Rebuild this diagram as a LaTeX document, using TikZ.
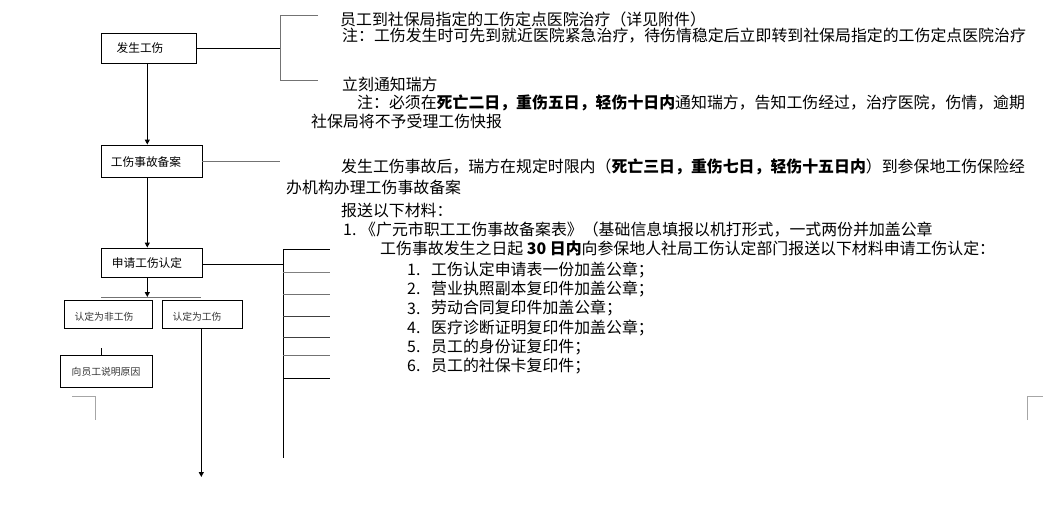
\documentclass[tikz,border=0pt]{standalone}
\usepackage{fontspec}
\setmainfont{Noto Sans CJK SC}
\usetikzlibrary{arrows.meta}
\begin{document}
\begin{tikzpicture}[x=1pt,y=-1pt,
  box/.style={draw=black,line width=0.9pt,inner sep=0pt,font=\fontsize{11.7}{13}\selectfont},
  sbox/.style={draw=black,line width=0.9pt,inner sep=0pt,font=\fontsize{9.8}{11}\selectfont,text=black!80},
  ln/.style={line width=0.9pt,draw=black},
  gln/.style={line width=0.9pt,draw=black!55},
  arr/.style={line width=0.9pt,draw=black,-{Triangle[length=5pt,width=5pt]}},
  corner/.style={line width=1pt,draw=black!35},
  txt/.style={anchor=west,inner sep=0pt,font=\fontsize{15.9}{18}\selectfont}
]
\useasboundingbox (0,0) rectangle (1043,511);
% boxes
\node[box,minimum width=95pt,minimum height=30pt] (fs) at (148.5,48) {};
\node[box,draw=none,anchor=center] (fst) at (140,48) {发生工伤};
\node[box,minimum width=101pt,minimum height=32pt] (ba) at (151.5,161) {};
\node[box,draw=none] (bat) at (146,162) {工伤事故备案};
\node[box,minimum width=101pt,minimum height=29pt] (sq) at (151.5,262.5) {};
\node[box,draw=none] (sqt) at (147,263) {申请工伤认定};
\node[sbox,minimum width=88pt,minimum height=28pt] (fg) at (108,314) {};
\node[sbox,draw=none] (fgt) at (104,317) {认定为非工伤};
\node[sbox,minimum width=80pt,minimum height=28pt] (wg) at (202.3,314) {};
\node[sbox,draw=none] (wgt) at (197,317) {认定为工伤};
\node[sbox,minimum width=92pt,minimum height=32pt] (yy) at (106,371) {};
\node[sbox,draw=none] (yyt) at (106,372) {向员工说明原因};

% axis coordinates
\coordinate (ax) at (147.3,0);
\coordinate (wx) at (201.3,0);
\coordinate (fx) at (101.3,0);

% bracket 1
\coordinate (b1t) at (280,15);
\coordinate (b1b) at (280,80);
\coordinate (b1m) at (280,48);
\coordinate (b1te) at (318,15);
\coordinate (b1be) at (318,80);
\draw[ln] (fs.east) -- (b1m);
\draw[gln] (b1te) -- (b1t) -- (b1b) -- (b1be);

% line from 工伤事故备案
\coordinate (b2e) at (280,161);
\draw[gln] (ba.east) -- (b2e);

% bracket 3
\coordinate (b3m) at (283,264);
\coordinate (b3t) at (283,249);
\coordinate (b3b) at (283,458);
\draw[ln] (sq.east |- b3m) -- (b3m);
\draw[ln] (b3t) -- (b3b);
\foreach \yy/\cc in {249/black,272/black!50,294/black!55,316/black!75,337/black!75,355/black!55,378/black}{
  \draw[line width=0.9pt,draw=\cc] (283,\yy) -- (330,\yy);
}

% arrows
\draw[arr] (fs.south -| ax) -- (ba.north -| ax);
\draw[arr] (ba.south -| ax) -- (sq.north -| ax);
\coordinate (bar) at (147.3,297);
\draw[arr] (sq.south -| ax) -- (bar);
\draw[gln] (bar -| fx) -- (bar -| wx);
\coordinate (tk) at (101.3,348);
\draw[ln] (tk) -- (yy.north -| tk);
\coordinate (wend) at (201.3,477);
\draw[arr] (wg.south -| wx) -- (wend);

% corner marks
\draw[corner] (72,396) -- (95.7,396) -- (95.7,420);
\draw[corner] (1027,420) -- (1027,396) -- (1043,396);

% texts
\node[txt] (t1) at (340,19) {员工到社保局指定的工伤定点医院治疗（详见附件）};
\node[txt] (t2) at (342,36) {注：工伤发生时可先到就近医院紧急治疗，待伤情稳定后立即转到社保局指定的工伤定点医院治疗};
\node[txt] (t3) at (342,84) {立刻通知瑞方};
\node[txt] (t4) at (357,103) {注：必须在\textbf{死亡二日，重伤五日，轻伤十日内}通知瑞方，告知工伤经过，治疗医院，伤情，逾期};
\node[txt] (t5) at (311,121) {社保局将不予受理工伤快报};
\node[txt] (t6) at (341,167) {发生工伤事故后，瑞方在规定时限内（\textbf{死亡三日，重伤七日，轻伤十五日内}）到参保地工伤保险经};
\node[txt] (t7) at (286,187) {办机构办理工伤事故备案};
\node[txt] (t8) at (341,211) {报送以下材料：};
\node[txt] (n9) at (343,230) {1.};
\node[txt] (t9) at (360,230) {《广元市职工工伤事故备案表》（基础信息填报以机打形式，一式两份并加盖公章};
\node[txt] (t10) at (380,248) {工伤事故发生之日起 \textbf{30 日内}向参保地人社局工伤认定部门报送以下材料申请工伤认定：};
\foreach \n/\yy/\tt in {1/270/工伤认定申请表一份加盖公章；,2/289.2/营业执照副本复印件加盖公章；,3/308.4/劳动合同复印件加盖公章；,4/327.6/医疗诊断证明复印件加盖公章；,5/346.8/员工的身份证复印件；,6/366/员工的社保卡复印件；}{
  \node[txt] (n\n) at (407,\yy) {\n.};
  \node[txt] (i\n) at (431,\yy) {\tt};
}
\end{tikzpicture}
\end{document}
